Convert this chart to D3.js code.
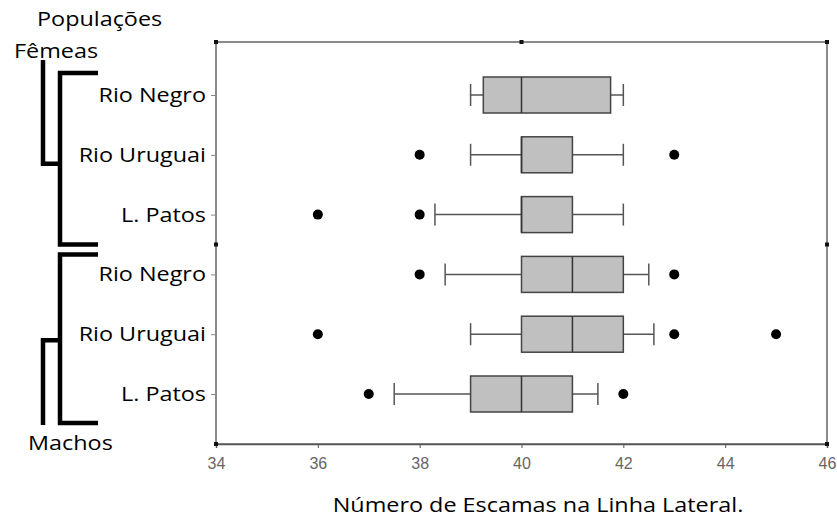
<!DOCTYPE html>
<html>
<head>
<meta charset="utf-8">
<script src="https://cdn.jsdelivr.net/npm/d3@7"></script>
<style>
  body { margin: 0; background: #fff; }
  text { font-family: "Open Sans", sans-serif; }
</style>
</head>
<body>
<svg id="chart" width="837" height="521"></svg>
<script>
// data
const categories = ["Rio Negro", "Rio Uruguai", "L. Patos", "Rio Negro", "Rio Uruguai", "L. Patos"];
const sexes = ["Fêmeas", "Fêmeas", "Fêmeas", "Machos", "Machos", "Machos"];
const whiskerLow = [39, 39, 38.3, 38.5, 39, 37.5];
const q1 = [39.25, 40, 40, 40, 40, 39];
const median = [40, 40, 40, 41, 41, 40];
const q3 = [41.75, 41, 41, 42, 42, 41];
const whiskerHigh = [42, 42, 42, 42.5, 42.6, 41.5];
const outliers = [[], [38, 43], [36, 38], [38, 43], [36, 43, 45], [37, 42]];
const xTicks = [34, 36, 38, 40, 42, 44, 46];

const pLeft = 216, pRight = 827, pTop = 42, pBottom = 444;
const stretch = 1.17; // the source text is a bit wide
const svg = d3.select("#chart");

const x = d3.scaleLinear().domain([34, 46]).range([pLeft, pRight]);
const y = d3.scalePoint().domain(d3.range(categories.length)).range([95, 394]);
const boxH = 36, capH = 22;

//frame
svg.append("rect")
  .attr("x", pLeft).attr("y", pTop)
  .attr("width", pRight - pLeft).attr("height", pBottom - pTop)
  .attr("fill", "none").attr("stroke", "#8a8a8a").attr("stroke-width", 2);

//bottom axis
const xAxis = svg.append("g")
  .attr("transform", "translate(0," + pBottom + ")")
  .call(d3.axisBottom(x).tickValues(xTicks).tickSize(4).tickPadding(10));
xAxis.select(".domain").attr("stroke", "#555").attr("stroke-width", 1.5);
xAxis.selectAll(".tick line").attr("stroke", "#555");
xAxis.selectAll("text")
  .style("font-family", "Arial, 'Liberation Sans', sans-serif")
  .style("font-size", "16px").attr("fill", "#666");

//left axis with population names
const yAxis = svg.append("g")
  .attr("transform", "translate(" + pLeft + ",0)")
  .call(d3.axisLeft(y).tickFormat(i => categories[i]).tickSize(5));
yAxis.select(".domain").remove();
yAxis.selectAll(".tick line").attr("stroke", "#888");
yAxis.selectAll("text")
  .attr("x", null)
  .attr("transform", "translate(-10,0) scale(" + stretch + ",1)")
  .style("font-size", "20px").attr("fill", "#000");

//little corner dots
const midY = (y(2) + y(3)) / 2;
const dots = [[pLeft, pTop], [x(40), pTop], [pRight, pTop], [pLeft, midY], [pRight, midY], [pLeft, pBottom], [pRight, pBottom]];
svg.append("g").selectAll("rect")
  .data(dots).enter().append("rect")
  .attr("x", d => d[0] - 2).attr("y", d => d[1] - 2)
  .attr("width", 4).attr("height", 4).attr("fill", "#111");

//boxes
const idx = d3.range(categories.length);
const g = svg.append("g");
g.selectAll(".whisker").data(idx).enter().append("line")
  .attr("x1", i => x(whiskerLow[i])).attr("x2", i => x(whiskerHigh[i]))
  .attr("y1", i => y(i)).attr("y2", i => y(i))
  .attr("stroke", "#555").attr("stroke-width", 1.5);
g.selectAll(".capL").data(idx).enter().append("line")
  .attr("x1", i => x(whiskerLow[i])).attr("x2", i => x(whiskerLow[i]))
  .attr("y1", i => y(i) - capH / 2).attr("y2", i => y(i) + capH / 2)
  .attr("stroke", "#555").attr("stroke-width", 1.5);
g.selectAll(".capR").data(idx).enter().append("line")
  .attr("x1", i => x(whiskerHigh[i])).attr("x2", i => x(whiskerHigh[i]))
  .attr("y1", i => y(i) - capH / 2).attr("y2", i => y(i) + capH / 2)
  .attr("stroke", "#555").attr("stroke-width", 1.5);
g.selectAll(".box").data(idx).enter().append("rect")
  .attr("x", i => x(q1[i])).attr("width", i => x(q3[i]) - x(q1[i]))
  .attr("y", i => y(i) - boxH / 2).attr("height", boxH)
  .attr("fill", "#c0c0c0").attr("stroke", "#444").attr("stroke-width", 1.5);
g.selectAll(".med").data(idx).enter().append("line")
  .attr("x1", i => x(median[i])).attr("x2", i => x(median[i]))
  .attr("y1", i => y(i) - boxH / 2).attr("y2", i => y(i) + boxH / 2)
  .attr("stroke", "#333").attr("stroke-width", 1.5);

//outliers
const pts = [];
outliers.forEach((arr, i) => arr.forEach(v => pts.push({ i: i, v: v })));
g.selectAll("circle").data(pts).enter().append("circle")
  .attr("cx", d => x(d.v)).attr("cy", d => y(d.i))
  .attr("r", 5).attr("fill", "#000");

//dendrogram brackets on the left
const br = svg.append("g").attr("fill", "none").attr("stroke", "#000").attr("stroke-width", 4.5);
const fTop = y(0) - 22, fBot = midY, mTop = midY + 10, mBot = y(5) + 29;
br.append("path").attr("d", `M98,${fTop}H60V${fBot}H98`);
br.append("path").attr("d", `M98,${mTop}H60V${mBot}H98`);
br.append("path").attr("d", `M43,60V${y(1) + 9}H60`);
br.append("path").attr("d", `M43,${mBot + 2}V${y(4) + 6}H60`);

//labels
function label(px, py, txt, anchor) {
  svg.append("text")
    .attr("transform", "translate(" + px + "," + py + ") scale(" + stretch + ",1)")
    .attr("text-anchor", anchor || "start")
    .style("font-size", "20px").attr("fill", "#000")
    .text(txt);
}
label(37, 26, "Populações");
label(14, 58, "Fêmeas");
label(28, 450, "Machos");
label(538, 512, "Número de Escamas na Linha Lateral.", "middle");
</script>
</body>
</html>
